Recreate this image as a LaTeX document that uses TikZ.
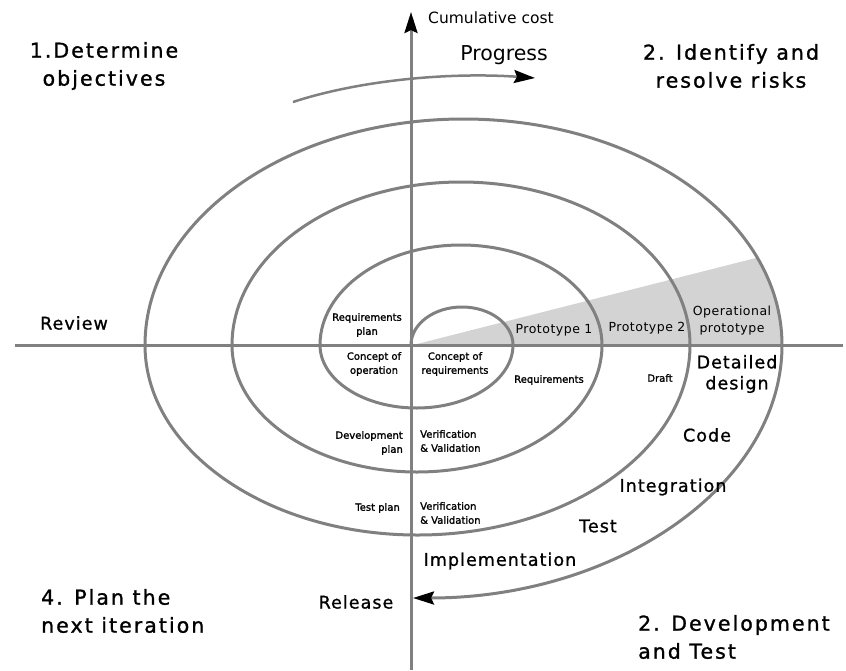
\documentclass[tikz,border=0pt]{standalone}
\usepackage{fontspec}
\setmainfont{DejaVu Sans}
\newfontfamily\wideA[LetterSpace=10,FakeBold=1.2]{DejaVu Sans}
\newfontfamily\wideB[LetterSpace=6,FakeBold=1]{DejaVu Sans}
\newfontfamily\wideC[LetterSpace=4]{DejaVu Sans}
\newfontfamily\tinyf[FakeBold=1.5]{DejaVu Sans}
\usetikzlibrary{arrows.meta}
\definecolor{linegray}{HTML}{808080}
\definecolor{wedgegray}{HTML}{D3D3D3}
\newcommand{\fsz}[2]{\fontsize{#1}{#2}\selectfont}
\begin{document}
\begin{tikzpicture}[x=1pt,y=-1pt,
  spiralline/.style={draw=linegray, line width=3pt},
  tipblack/.style={-{Stealth[length=21pt,width=13pt,inset=3pt,black]}},
  titletext/.style={font=\wideA\fsz{20.5}{28}, align=center, inner sep=0pt},
  midtext/.style={font=\wideB\fsz{17.5}{21}, align=center, inner sep=0pt},
  smalltext/.style={font=\wideC\fsz{12.5}{17}, align=center, inner sep=0pt},
  tinytext/.style={font=\tinyf\fsz{10}{14}, align=center, inner sep=0pt},
]
\useasboundingbox (0,0) rectangle (846,670);

% grey wedge
\begin{scope}
  \clip (145,345) arc[start angle=180,end angle=360,x radius=318.5,y radius=226] -- cycle;
  \fill[wedgegray] (413,345) -- (800,246.8) -- (800,345) -- cycle;
\end{scope}

% axes
\coordinate (hl) at (15,345);
\coordinate (hr) at (843,345);
\coordinate (vb) at (411,670);
\coordinate (vt) at (411,12);
\draw[spiralline] (hl) -- (hr);
\draw[spiralline, tipblack] (vb) -- (vt);

% spiral
\coordinate (s0) at (411,345);
\draw[spiralline] (s0)
  arc[start angle=180,end angle=360,x radius=51,y radius=38]
  arc[start angle=0,end angle=180,x radius=96.5,y radius=63]
  arc[start angle=180,end angle=360,x radius=141,y radius=100]
  arc[start angle=0,end angle=180,x radius=185,y radius=127]
  arc[start angle=180,end angle=360,x radius=229,y radius=163]
  arc[start angle=0,end angle=180,x radius=272.5,y radius=190]
  arc[start angle=180,end angle=360,x radius=318.5,y radius=226] coordinate (s7);
\draw[spiralline, tipblack] (s7) arc[start angle=0,end angle=90,x radius=369,y radius=253];

% progress arrow
\coordinate (pa) at (293,102);
\coordinate (pb) at (535,78);
\draw[draw=linegray, line width=2.5pt, tipblack] (pa) .. controls (360,80) and (450,72) .. (pb);

% texts
\node[inner sep=0pt, font=\fsz{15.5}{18}] (cum) at (491,18) {Cumulative cost};
\node[inner sep=0pt, font=\fsz{20.5}{24}] (prog) at (504,55) {Progress};

\node[titletext] (obj) at (104,66) {1.Determine\\objectives};
\node[titletext] (risk) at (731,66) {2. Identify and\\resolve risks};
\node[titletext, anchor=west, align=left] (plan) at (41,611) {4. Plan the\\next iteration};
\node[titletext, anchor=west, align=left] (dev) at (638,637) {2. Development\\and Test};

\node[midtext] (review) at (74,323) {Review};
\node[midtext] (release) at (356,602) {Release};
\node[midtext] (impl) at (500,561) {Implementation};
\node[midtext] (test) at (598,526) {Test};
\node[midtext] (integ) at (673,487) {Integration};
\node[midtext] (code) at (707,435) {Code};
\node[midtext] (detail) at (737,374) {Detailed\\design};

\node[smalltext] (oper) at (732,321) {Operational\\prototype};
\node[smalltext] (p2) at (647,328) {Prototype 2};
\node[smalltext] (p1) at (554,330) {Prototype 1};

\node[tinytext] (draft) at (660,378) {Draft};
\node[tinytext] (req) at (549,380) {Requirements};
\node[tinytext] (reqplan) at (367,325) {Requirements\\plan};
\node[tinytext] (cop) at (374,364) {Concept of\\operation};
\node[tinytext] (creq) at (455,364) {Concept of\\requirements};
\node[tinytext, align=right, anchor=east] (devplan) at (403,443) {Development\\plan};
\node[tinytext, align=left, anchor=west] (vv1) at (420,441) {Verification\\\& Validation};
\node[tinytext, anchor=east] (tplan) at (400,508) {Test plan};
\node[tinytext, align=left, anchor=west] (vv2) at (420,513) {Verification\\\& Validation};
\end{tikzpicture}
\end{document}
